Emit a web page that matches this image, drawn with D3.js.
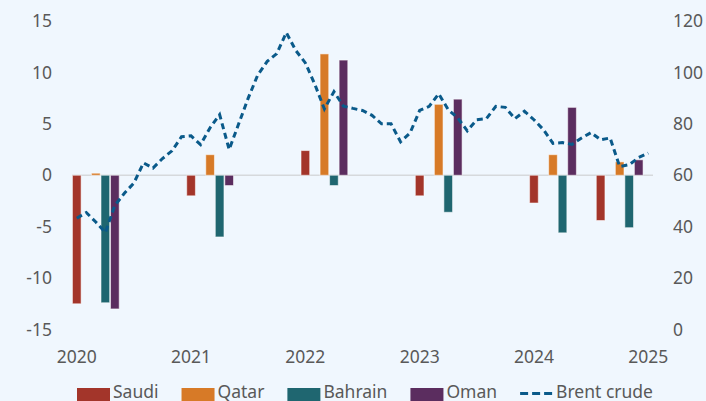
<!DOCTYPE html>
<html>
<head>
<meta charset="utf-8">
<style>
  body { margin: 0; background: #f0f7fe; }
  svg { display: block; font-family: "Noto Sans", "Open Sans", sans-serif; }
  .axis text { fill: #595959; font-size: 17.5px; }
  .legend text { fill: #595959; font-size: 17.5px; }
</style>
<script src="https://d3js.org/d3.v7.min.js"></script>
</head>
<body>
<svg width="706" height="401"></svg>
<script>
// x axis runs monthly, Jan 2020 .. Jan 2025
var startMonth = "2020-01", endMonth = "2025-01";
var yearTicks = ["2020-01", "2021-01", "2022-01", "2023-01", "2024-01", "2025-01"];

// fiscal balance bars (left axis), each country on its own months
var saudiDates   = ["2020-01", "2021-01", "2022-01", "2023-01", "2024-01", "2024-08"];
var saudi        = [-12.5, -2.0, 2.4, -2.0, -2.7, -4.4];
var qatarDates   = ["2020-03", "2021-03", "2022-03", "2023-03", "2024-03", "2024-10"];
var qatar        = [0.2, 2.0, 11.8, 6.9, 2.0, 1.3];
var bahrainDates = ["2020-04", "2021-04", "2022-04", "2023-04", "2024-04", "2024-11"];
var bahrain      = [-12.4, -6.0, -1.0, -3.6, -5.6, -5.1];
var omanDates    = ["2020-05", "2021-05", "2022-05", "2023-05", "2024-05", "2024-12"];
var oman         = [-13.0, -1.0, 11.2, 7.4, 6.6, 1.5];

// Brent crude, monthly (right axis)
var brent = [43.3, 45.5, 41.8, 37.7, 48.3, 53, 57, 64.8, 62.8, 66.5, 69.5, 75,
             75.3, 71.9, 78.5, 83.6, 70, 80, 90, 99, 104.3, 107.3, 115.5, 108.5,
             103.7, 95.3, 85.8, 92.5, 86.9, 86, 85.2, 83.3, 80, 80, 73, 76.5,
             85.2, 86.8, 91.7, 85.5, 82.3, 77.3, 81.6, 82, 86.8, 86.4, 82, 84.9,
             81.6, 77.7, 72.4, 72.7, 72, 74.5, 76.6, 73.8, 74.5, 63.4, 64.1, 66.9,
             68.6];

var leftTicks = [-15, -10, -5, 0, 5, 10, 15];
var rightTicks = [0, 20, 40, 60, 80, 100, 120];

var fmt = d3.timeFormat("%Y-%m"), parse = d3.timeParse("%Y-%m");
var months = d3.timeMonth.range(parse(startMonth), d3.timeMonth.offset(parse(endMonth), 1)).map(fmt);

var series = [
  {name: "Saudi",   dates: saudiDates,   values: saudi,   color: "#a3352a"},
  {name: "Qatar",   dates: qatarDates,   values: qatar,   color: "#d77a27"},
  {name: "Bahrain", dates: bahrainDates, values: bahrain, color: "#1f6670"},
  {name: "Oman",    dates: omanDates,    values: oman,    color: "#5b2d5f"}
];
var lineColor = "#0a5a8a";

var svg = d3.select("svg");

var x = d3.scaleBand().domain(months).range([72, 653]).paddingInner(0.09).paddingOuter(0.045);
var yL = d3.scaleLinear().domain([-15, 15]).range([329.5, 21]);
var yR = d3.scaleLinear().domain([0, 120]).range([329.5, 21]);

svg.append("rect").attr("width", 706).attr("height", 401).attr("fill", "#f0f7fe");

// zero line
svg.append("line")
  .attr("x1", x.range()[0]).attr("x2", x.range()[1])
  .attr("y1", yL(0)).attr("y2", yL(0))
  .attr("stroke", "#d6d9dc").attr("stroke-width", 1.5);

// bars
series.forEach(function(s) {
  var rows = s.dates.map(function(d, i) { return {date: d, value: s.values[i]}; });
  svg.append("g").selectAll("rect")
    .data(rows)
    .enter().append("rect")
      .attr("x", function(d) { return x(d.date); })
      .attr("width", x.bandwidth())
      .attr("y", function(d) { return yL(Math.max(0, d.value)); })
      .attr("height", function(d) { return Math.abs(yL(d.value) - yL(0)); })
      .attr("fill", s.color)
      .attr("stroke", "#ffffff").attr("stroke-opacity", 0.55).attr("stroke-width", 1);
});

// brent line
var line = d3.line()
  .x(function(d, i) { return x(months[i]) + x.bandwidth() / 2; })
  .y(function(d) { return yR(d); });

svg.append("path")
  .datum(brent)
  .attr("d", line)
  .attr("fill", "none")
  .attr("stroke", lineColor)
  .attr("stroke-width", 3)
  .attr("stroke-dasharray", "6,4");

// axes (plain hyphen for negatives, as in the original)
var plain = function(d) { return String(d); };

var gx = svg.append("g").attr("class", "axis")
  .attr("transform", "translate(0,351)")
  .call(d3.axisBottom(x).tickValues(yearTicks).tickSize(0).tickPadding(0)
    .tickFormat(function(d) { return d.slice(0, 4); }));

var gl = svg.append("g").attr("class", "axis")
  .attr("transform", "translate(52,0)")
  .call(d3.axisLeft(yL).tickValues(leftTicks).tickSize(0).tickPadding(0).tickFormat(plain));

var gr = svg.append("g").attr("class", "axis")
  .attr("transform", "translate(673,0)")
  .call(d3.axisRight(yR).tickValues(rightTicks).tickSize(0).tickPadding(0).tickFormat(plain));

[gx, gl, gr].forEach(function(g) {
  g.select(".domain").remove();
  g.attr("font-family", null).attr("font-size", null);
});

// legend
var legendItems = series.map(function(s) { return {name: s.name, color: s.color, type: "bar"}; })
  .concat([{name: "Brent crude", color: lineColor, type: "line"}]);

var legend = svg.append("g").attr("class", "legend");
var lx = 0;
legendItems.forEach(function(d) {
  var item = legend.append("g").attr("transform", "translate(" + lx + ",0)");
  if (d.type === "bar") {
    item.append("rect").attr("x", 0).attr("y", 388).attr("width", 33).attr("height", 15).attr("fill", d.color);
  } else {
    item.append("line").attr("x1", 0).attr("x2", 32).attr("y1", 393.5).attr("y2", 393.5)
      .attr("stroke", d.color).attr("stroke-width", 3).attr("stroke-dasharray", "8,4");
  }
  var t = item.append("text").attr("x", 36).attr("y", 398).text(d.name);
  lx += 36 + t.node().getComputedTextLength() + 23;
});
var legendWidth = lx - 23;
legend.attr("transform", "translate(" + (365 - legendWidth / 2) + ",0)");
</script>
</body>
</html>
